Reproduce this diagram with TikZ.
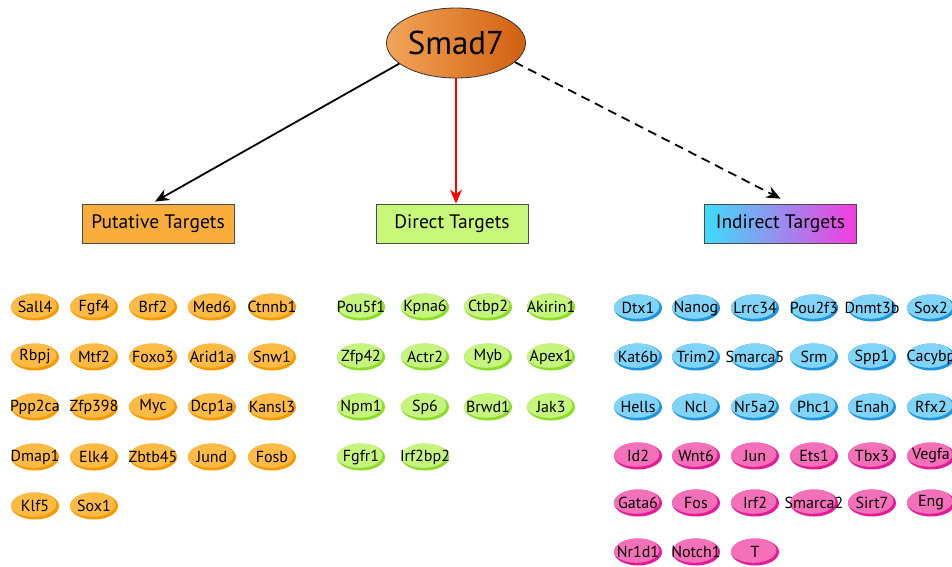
\documentclass[tikz,border=0pt]{standalone}
\usepackage{fontspec}
\setmainfont{PT Sans}
\usetikzlibrary{shapes.geometric,arrows.meta}

\definecolor{hubl}{HTML}{F2A55A}
\definecolor{hubm}{HTML}{EE7C1A}
\definecolor{hubr}{HTML}{D2600F}
\definecolor{putab}{HTML}{F9AE3C}
\definecolor{direb}{HTML}{C8F87A}
\definecolor{indil}{HTML}{3DDCFB}
\definecolor{indir}{HTML}{F53CE0}
\definecolor{oral}{HTML}{FDBB45}
\definecolor{orad}{HTML}{F79A00}
\definecolor{grnl}{HTML}{C6F57E}
\definecolor{grnd}{HTML}{8CDC2A}
\definecolor{blul}{HTML}{80D4F8}
\definecolor{blud}{HTML}{1E96DD}
\definecolor{pnkl}{HTML}{F470B8}
\definecolor{pnkd}{HTML}{E6199A}

\begin{document}
\begin{tikzpicture}[x=1pt,y=-1pt,
  hub/.style={ellipse,draw=black!80,line width=0.8pt,minimum width=139pt,minimum height=70pt,inner sep=0pt,
    left color=hubl,middle color=hubm,right color=hubr,font=\fontsize{33}{33}\selectfont},
  group/.style={rectangle,draw=black!70,line width=0.8pt,minimum width=152pt,minimum height=39pt,
    font=\fontsize{19.5}{19.5}\selectfont},
  gene/.style 2 args={ellipse,minimum width=48pt,minimum height=27pt,inner sep=0pt,fill=#2,
    path picture={\fill[#1] ([shift={(-1.7pt,1.7pt)}]path picture bounding box.center)
      ellipse [x radius=23pt,y radius=12.5pt];},
    execute at begin node={\setbox0=\hbox\bgroup},
    execute at end node={\egroup\hbox to 0pt{\hss\box0\hss}},
    font=\fontsize{16}{16}\selectfont},
  puta/.style={gene={oral}{orad}},
  dire/.style={gene={grnl}{grnd}},
  indb/.style={gene={blul}{blud}},
  indp/.style={gene={pnkl}{pnkd}},
  link/.style={line width=1.8pt,-{Stealth[length=14pt,width=12pt]}}]
\useasboundingbox (0,0) rectangle (952,566);
\clip (0,0) rectangle (952,566);
\node[hub] (smad) at (456,43) {Smad7};
\node[group,fill=putab] (puta) at (158,223.5) {Putative Targets};
\node[group,fill=direb] (dire) at (452,223.5) {Direct Targets};
\node[group,left color=indil,right color=indir] (indi) at (780.5,223.5) {Indirect Targets};
\draw[link,black] (smad.200) -- ([xshift=-3pt,yshift=2pt]puta.north);
\draw[link,red] (smad.south) -- (smad.south |- dire.north);
\draw[link,black,dash pattern=on 9pt off 6pt] (smad.-18) -- ([yshift=5pt]indi.north);
% putative targets
\node[puta] (sall4) at (35,307) {Sall4};
\node[puta] (fgf4) at (94,307) {Fgf4};
\node[puta] (brf2) at (153,307) {Brf2};
\node[puta] (med6) at (212,307) {Med6};
\node[puta] (ctnnb1) at (272,307) {Ctnnb1};
\node[puta] (rbpj) at (35,357) {Rbpj};
\node[puta] (mtf2) at (94,357) {Mtf2};
\node[puta] (foxo3) at (153,357) {Foxo3};
\node[puta] (arid1a) at (212,357) {Arid1a};
\node[puta] (snw1) at (272,357) {Snw1};
\node[puta] (ppp2ca) at (35,407) {Ppp2ca};
\node[puta] (zfp398) at (94,407) {Zfp398};
\node[puta] (myc) at (153,407) {Myc};
\node[puta] (dcp1a) at (212,407) {Dcp1a};
\node[puta] (kansl3) at (272,407) {Kansl3};
\node[puta] (dmap1) at (35,457) {Dmap1};
\node[puta] (elk4) at (94,457) {Elk4};
\node[puta] (zbtb45) at (153,457) {Zbtb45};
\node[puta] (jund) at (212,457) {Jund};
\node[puta] (fosb) at (272,457) {Fosb};
\node[puta] (klf5) at (35,506) {Klf5};
\node[puta] (sox1) at (94,506) {Sox1};
% direct targets
\node[dire] (pou5f1) at (361,307) {Pou5f1};
\node[dire] (kpna6) at (425,307) {Kpna6};
\node[dire] (ctbp2) at (488,307) {Ctbp2};
\node[dire] (akirin1) at (551,307) {Akirin1};
\node[dire] (zfp42) at (361,357) {Zfp42};
\node[dire] (actr2) at (425,357) {Actr2};
\node[dire] (myb) at (488,357) {Myb};
\node[dire] (apex1) at (551,357) {Apex1};
\node[dire] (npm1) at (361,407) {Npm1};
\node[dire] (sp6) at (425,407) {Sp6};
\node[dire] (brwd1) at (488,407) {Brwd1};
\node[dire] (jak3) at (551,407) {Jak3};
\node[dire] (fgfr1) at (361,457) {Fgfr1};
\node[dire] (irf2bp2) at (425,457) {Irf2bp2};
% indirect targets
\node[indb] (dtx1) at (638,308) {Dtx1};
\node[indb] (nanog) at (696,308) {Nanog};
\node[indb] (lrrc34) at (755,308) {Lrrc34};
\node[indb] (pou2f3) at (814,308) {Pou2f3};
\node[indb] (dnmt3b) at (872,308) {Dnmt3b};
\node[indb] (sox2) at (931,308) {Sox2};
\node[indb] (kat6b) at (638,357) {Kat6b};
\node[indb] (trim2) at (696,357) {Trim2};
\node[indb] (smarca5) at (755,357) {Smarca5};
\node[indb] (srm) at (814,357) {Srm};
\node[indb] (spp1) at (872,357) {Spp1};
\node[indb] (cacybp) at (931,357) {Cacybp};
\node[indb] (hells) at (638,407) {Hells};
\node[indb] (ncl) at (696,407) {Ncl};
\node[indb] (nr5a2) at (755,407) {Nr5a2};
\node[indb] (phc1) at (814,407) {Phc1};
\node[indb] (enah) at (872,407) {Enah};
\node[indb] (rfx2) at (931,407) {Rfx2};
\node[indp] (id2) at (638,456) {Id2};
\node[indp] (wnt6) at (696,456) {Wnt6};
\node[indp] (jun) at (755,456) {Jun};
\node[indp] (ets1) at (814,456) {Ets1};
\node[indp] (tbx3) at (872,456) {Tbx3};
\node[indp] (vegfa) at (931,456) {Vegfa};
\node[indp] (gata6) at (638,503) {Gata6};
\node[indp] (fos) at (696,503) {Fos};
\node[indp] (irf2) at (755,503) {Irf2};
\node[indp] (smarca2) at (814,503) {Smarca2};
\node[indp] (sirt7) at (872,503) {Sirt7};
\node[indp] (eng) at (931,503) {Eng};
\node[indp] (nr1d1) at (638,552) {Nr1d1};
\node[indp] (notch1) at (696,552) {Notch1};
\node[indp] (t) at (755,552) {T};
\end{tikzpicture}
\end{document}
